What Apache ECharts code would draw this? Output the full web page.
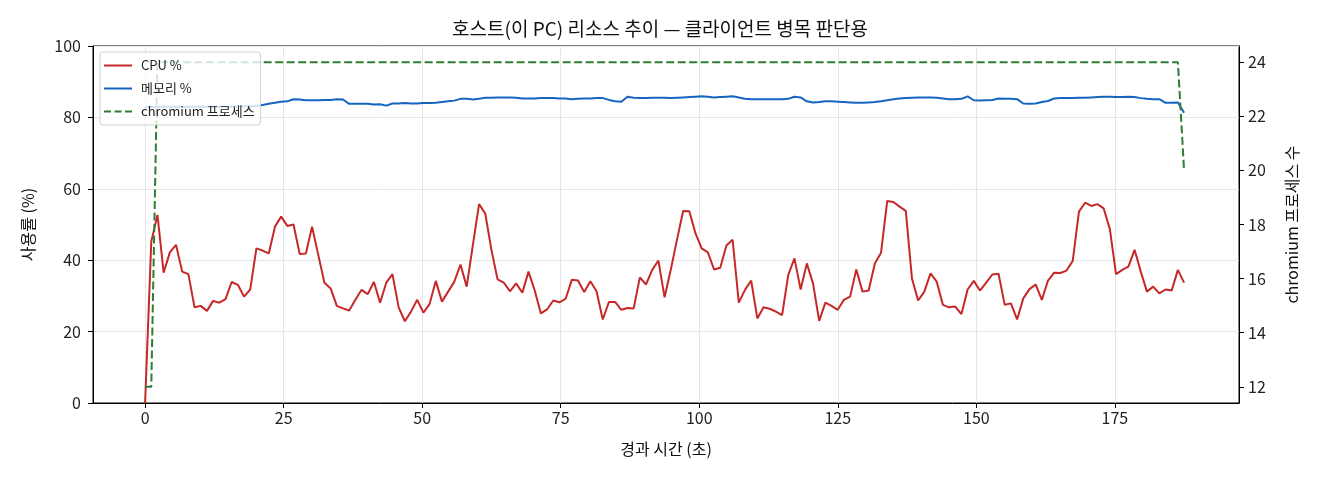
<!DOCTYPE html>
<html>
<head>
<meta charset="utf-8">
<script src="https://cdn.jsdelivr.net/npm/echarts@6/dist/echarts.min.js"></script>
<style>
  html, body { margin: 0; padding: 0; background: #fff; }
  #chart { width: 1320px; height: 480px; }
</style>
</head>
<body>
<div id="chart"></div>
<script>
// 샘플 간격 (초) - 그림에서 읽은 값
const SAMPLE_SEC = 1.116;

const cpuPct = [
  0, 45.2, 52.7, 36.5, 42.2, 44.3, 36.8, 36.1, 26.8, 27.2, 25.8, 28.6, 28.1, 29.1, 33.9, 33.1, 29.8, 31.8, 43.3, 42.7, 41.9,
  49.4, 52.2, 49.6, 50.0, 41.7, 41.9, 49.4, 41.5, 33.7, 32.1, 27.2, 26.5, 25.9, 28.9, 31.7, 30.5, 33.9, 28.1, 33.7, 36.1, 26.8, 22.9,
  25.6, 28.9, 25.3, 27.7, 34.2, 28.4, 31.2, 34.0, 38.8, 32.6, 44.2, 55.7, 53.1, 42.9, 34.6, 33.7, 31.3, 33.5, 30.9, 36.8, 31.5,
  25.1, 26.2, 28.7, 28.2, 29.2, 34.5, 34.3, 31.1, 34.1, 31.3, 23.4, 28.3, 28.3, 26.1, 26.6, 26.5, 35.2, 33.2, 37.3, 39.9, 29.6,
  37.3, 45.7, 53.8, 53.7, 47.5, 43.3, 42.2, 37.4, 37.9, 44.1, 45.7, 28.1, 31.7, 34.3, 23.7, 26.8, 26.4, 25.6, 24.6, 35.9, 40.5,
  31.8, 39.1, 33.5, 23.0, 28.1, 27.2, 26.1, 28.9, 29.8, 37.4, 31.2, 31.5, 39.1, 42.1, 56.6, 56.3, 55.0, 53.8, 34.9, 28.7, 31.2, 36.3,
  34.0, 27.5, 26.8, 27.0, 24.9, 31.8, 34.2, 31.5, 33.7, 36.0, 36.2, 27.5, 27.9, 23.4, 29.3, 31.9, 33.2, 28.9, 34.3, 36.5,
  36.4, 37.1, 39.8, 53.6, 56.1, 55.2, 55.7, 54.5, 48.7, 36.1, 37.3, 38.2, 42.9, 36.8, 31.2, 32.6, 30.7, 31.8, 31.5, 37.3, 33.7
];

const memPct = [
  82.9, 82.9, 83.0, 83.0, 83.0, 83.0, 83.0, 83.0, 83.0, 83.0, 83.0, 83.0, 83.0, 83.0, 83.0, 83.1, 83.1, 83.1, 83.2, 83.5, 83.8,
  84.1, 84.4, 84.5, 85.1, 85.0, 84.8, 84.8, 84.8, 84.9, 84.9, 85.1, 85.0, 83.8, 83.8, 83.8, 83.8, 83.6, 83.7, 83.3, 83.9, 83.9, 84.0,
  83.9, 83.9, 84.0, 84.0, 84.1, 84.3, 84.5, 84.7, 85.2, 85.2, 85.0, 85.2, 85.5, 85.5, 85.6, 85.6, 85.6, 85.5, 85.3, 85.3, 85.3,
  85.4, 85.4, 85.4, 85.3, 85.3, 85.1, 85.2, 85.3, 85.3, 85.4, 85.4, 84.9, 84.5, 84.4, 85.8, 85.5, 85.4, 85.4, 85.5, 85.5, 85.5,
  85.4, 85.5, 85.6, 85.7, 85.8, 85.9, 85.8, 85.6, 85.7, 85.8, 85.9, 85.6, 85.2, 85.1, 85.1, 85.1, 85.1, 85.1, 85.1, 85.2, 85.8,
  85.6, 84.5, 84.2, 84.3, 84.5, 84.5, 84.4, 84.3, 84.2, 84.1, 84.1, 84.2, 84.3, 84.5, 84.8, 85.1, 85.3, 85.4, 85.5, 85.6, 85.6, 85.6,
  85.5, 85.3, 85.1, 85.1, 85.2, 85.9, 84.8, 84.7, 84.8, 84.9, 85.3, 85.2, 85.2, 85.1, 83.9, 83.8, 83.9, 84.3, 84.6, 85.3,
  85.4, 85.4, 85.4, 85.5, 85.5, 85.6, 85.7, 85.8, 85.8, 85.7, 85.7, 85.8, 85.7, 85.4, 85.2, 85.1, 85.1, 84.1, 84.1, 84.2, 81.3
];

// chromium 프로세스 수: 처음 두 샘플 12, 마지막 샘플 20, 나머지 24
const chromiumCount = [12, 12].concat(new Array(166).fill(24), [20]);

const xTicks = [0, 25, 50, 75, 100, 125, 150, 175];
const rightTicks = [12, 14, 16, 18, 20, 22, 24];

const elapsed = cpuPct.map((_, i) => +(i * SAMPLE_SEC).toFixed(3));
const pairs = (arr) => arr.map((v, i) => [elapsed[i], v]);

const FONT = "'Noto Sans CJK KR', 'Noto Sans', sans-serif";
const SOLID_ICON = "path://M0,4L28,4L28,6L0,6Z";
const DASH_ICON = "path://M0,4h7v2h-7z M10.5,4h7v2h-7z M21,4h7v2h-7z";

const chart = echarts.init(document.querySelector("#chart"));

chart.setOption({
  animation: false,
  textStyle: { fontFamily: FONT },
  title: {
    text: "호스트(이 PC) 리소스 추이 — 클라이언트 병목 판단용",
    left: "center",
    top: 14,
    textStyle: { fontFamily: FONT, fontSize: 19, fontWeight: "normal", color: "#111" }
  },
  grid: {
    left: 93, right: 81, top: 46, bottom: 77,
    show: true, borderColor: "#000", borderWidth: 1, backgroundColor: "transparent"
  },
  legend: {
    orient: "vertical",
    left: 100, top: 52,
    itemWidth: 28, itemHeight: 10, itemGap: 10,
    padding: [7, 6, 7, 4],
    backgroundColor: "rgba(255,255,255,0.8)",
    borderColor: "#d0d0d0", borderWidth: 1, borderRadius: 3,
    textStyle: { fontFamily: FONT, fontSize: 13, color: "#222", padding: [0, 0, 0, 4] },
    data: [
      { name: "CPU %", icon: SOLID_ICON },
      { name: "메모리 %", icon: SOLID_ICON },
      { name: "chromium 프로세스", icon: DASH_ICON }
    ]
  },
  xAxis: {
    type: "value",
    min: -9.4, max: 197.4,
    name: "경과 시간 (초)",
    nameLocation: "middle",
    nameGap: 38,
    nameTextStyle: { fontFamily: FONT, fontSize: 16, color: "#111" },
    axisLine: { show: true, onZero: false, lineStyle: { color: "#000" } },
    axisTick: { show: true, inside: false, length: 5, customValues: xTicks, lineStyle: { color: "#000" } },
    axisLabel: { customValues: xTicks, fontSize: 16, color: "#222", margin: 7 },
    splitLine: { show: false }
  },
  yAxis: [
    {
      type: "value",
      min: 0, max: 100, interval: 20,
      name: "사용률 (%)",
      nameLocation: "middle",
      nameGap: 57,
      nameTextStyle: { fontFamily: FONT, fontSize: 16, color: "#111" },
      axisLine: { show: true, onZero: false, lineStyle: { color: "#000" } },
      axisTick: { show: true, length: 5, lineStyle: { color: "#000" } },
      axisLabel: { fontSize: 16, color: "#222", margin: 12 },
      splitLine: { show: true, lineStyle: { color: "#e6e6e6", width: 1 } }
    },
    {
      type: "value",
      min: 11.4, max: 24.6,
      position: "right",
      name: "chromium 프로세스 수",
      nameLocation: "middle",
      nameGap: 45,
      nameRotate: 90,
      nameTextStyle: { fontFamily: FONT, fontSize: 16, color: "#111" },
      axisLine: { show: true, onZero: false, lineStyle: { color: "#000" } },
      axisTick: { show: true, length: 5, customValues: rightTicks, lineStyle: { color: "#000" } },
      axisLabel: { customValues: rightTicks, fontSize: 16, color: "#222", margin: 9 },
      splitLine: { show: false }
    }
  ],
  series: [
    {
      name: "CPU %",
      type: "line",
      data: pairs(cpuPct),
      showSymbol: false, symbol: "none",
      lineStyle: { color: "#c62828", width: 2 },
      itemStyle: { color: "#c62828" },
      z: 3,
      markLine: {
        silent: true, symbol: "none", label: { show: false },
        lineStyle: { color: "#e6e6e6", width: 1, type: "solid" },
        data: xTicks.map((t) => ({ xAxis: t })),
        z: 0
      }
    },
    {
      name: "메모리 %",
      type: "line",
      data: pairs(memPct),
      showSymbol: false, symbol: "none",
      lineStyle: { color: "#1565c0", width: 2 },
      itemStyle: { color: "#1565c0" },
      z: 3
    },
    {
      name: "chromium 프로세스",
      type: "line",
      yAxisIndex: 1,
      data: pairs(chromiumCount),
      showSymbol: false, symbol: "none",
      lineStyle: { color: "#2e7d32", width: 2, type: [8, 3.5] },
      itemStyle: { color: "#2e7d32" },
      z: 3
    }
  ]
});
</script>
</body>
</html>
